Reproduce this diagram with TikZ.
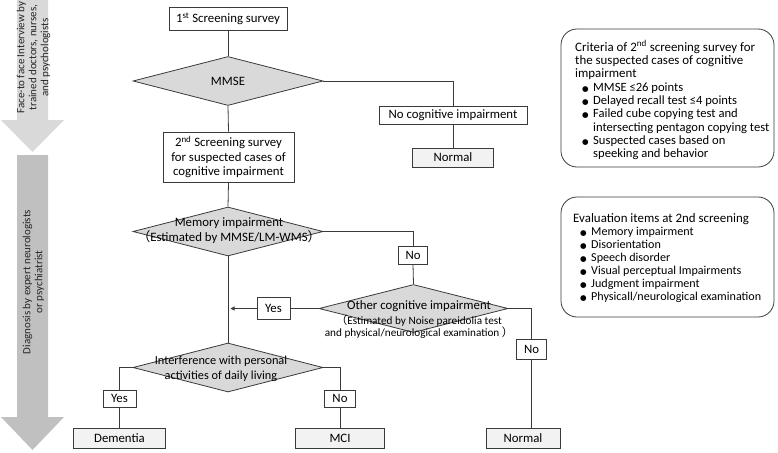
\documentclass[tikz,border=0pt]{standalone}
\usepackage{fontspec}
\setmainfont{Carlito}
\newfontfamily\cjkf{Noto Sans CJK JP}
\newfontfamily\symf{DejaVu Sans}
\usetikzlibrary{shapes.geometric,arrows.meta}
\definecolor{arrowA}{HTML}{D9D9D9}
\definecolor{arrowB}{HTML}{C0C0C0}
\definecolor{diafill}{HTML}{D9D9D9}
\definecolor{outfill}{HTML}{F2F2F2}
\definecolor{ln}{HTML}{3A3A3A}
\newcommand{\fsA}{\fontsize{12.8}{14.5}\selectfont}
\newcommand{\fsB}{\fontsize{11.2}{12}\selectfont}
\newcommand{\fsC}{\fontsize{12.9}{13.3}\selectfont}
\newcommand{\fsD}{\fontsize{11}{12}\selectfont}
\newcommand{\bul}{{\symf\fontsize{7.5}{8}\selectfont ●}}
\newcommand{\itm}{\makebox[18pt][l]{\hspace*{7pt}\bul}}
\newcommand{\itc}{\hspace*{18pt}}
\newcommand{\smi}{\fontsize{12.1}{13}\selectfont}
\newcommand{\smj}{\fontsize{12.6}{13.3}\selectfont}
\begin{document}
\begin{tikzpicture}[x=1pt,y=-1pt,
  conn/.style={draw=ln, line width=0.8pt},
  box/.style={draw=ln, line width=0.8pt, fill=white, inner sep=1pt, align=center, font=\fsA},
  outbox/.style={box, fill=outfill},
  dia/.style={diamond, draw=ln, line width=0.8pt, fill=diafill, inner sep=0pt, minimum width=190pt, minimum height=49pt},
  dtext/.style={align=center, font=\fsA, inner sep=0pt},
  panel/.style={draw=ln, line width=0.8pt, rounded corners=16pt, inner sep=0pt},
  ptext/.style={align=left, font=\fsC, inner sep=0pt, anchor=north west},
  atext/.style={align=center, font=\fsD, rotate=90, inner sep=0pt, text=black!85}
]
\useasboundingbox (0,0) rectangle (778,452);

% side arrows
\fill[arrowA] (17,0) -- (48,0) -- (48,120) -- (64,120) -- (32.5,152) -- (1,120) -- (17,120) -- cycle;
\fill[arrowB] (17,155) -- (48,155) -- (48,417) -- (64,417) -- (32.5,450) -- (1,417) -- (17,417) -- cycle;
\node[atext] (ta) at (33.5,57.5) {Face-to face Interview by\\trained doctors, nurses,\\and psychologists};
\node[atext] (tb) at (33.5,282) {Diagnosis by expert neurologists\\or psychiatrist};

% flowchart nodes
\node[box, minimum width=118pt, minimum height=23pt] (s1) at (228,18.5) {1\textsuperscript{st} Screening survey};
\node[dia] (mmse) at (228,81) {};
\node[dtext] (mmset) at (228,81) {MMSE};
\node[box, minimum width=148pt, minimum height=18pt] (noci) at (453,115.5) {No cognitive impairment};
\node[outbox, minimum width=81pt, minimum height=19pt] (norm1) at (453,157.5) {Normal};
\node[box, minimum width=131pt, minimum height=50pt] (s2) at (228.5,157) {2\textsuperscript{nd} Screening survey\\for suspected cases of\\cognitive impairment};
\node[dia] (mem) at (228,231.5) {};
\node[dtext] (memt) at (229,230.5) {Memory impairment\\{\cjkf （}Estimated by MMSE/LM-WMS{\cjkf ）}};
\node[box, minimum width=29pt, minimum height=18pt] (no1) at (413,255) {No};
\node[dia, minimum width=189pt, minimum height=48pt] (oth) at (413.5,308.5) {};
\node[dtext] (otht) at (419,306) {Other cognitive impairment};
\node[dtext, font=\fsB] (othsub) at (419,327) {{\cjkf （}Estimated by Noise pareidolia test\\and physical/neurological examination {\cjkf ）}};
\node[box, minimum width=33pt, minimum height=22pt] (yes1) at (273.5,308.5) {Yes};
\coordinate (tip) at (230.5,308.5);
\node[box, minimum width=30pt, minimum height=20pt] (no2) at (531.5,349) {No};
\node[outbox, minimum width=74pt, minimum height=20pt] (norm2) at (523,438) {Normal};
\node[dia] (intf) at (228,367.5) {};
\node[dtext, font=\fontsize{12.3}{15}\selectfont] (intft) at (221,369) {Interference with personal\\activities of daily living};
\node[box, minimum width=33pt, minimum height=17pt] (yes2) at (119.5,398.5) {Yes};
\node[box, minimum width=31pt, minimum height=17pt] (no3) at (340,398.5) {No};
\node[outbox, minimum width=92pt, minimum height=20pt] (dem) at (119.5,438) {Dementia};
\node[outbox, minimum width=89pt, minimum height=20pt] (mci) at (340,438) {MCI};

% connectors
\draw[conn] (s1.south) -- (mmse.north);
\draw[conn] (mmse.south) -- (s2.north);
\draw[conn] (mmse.east) -| (noci.north);
\draw[conn] (noci.south) -- (norm1.north);
\draw[conn] (s2.south) -- (mem.north);
\draw[conn] (mem.east) -| (no1.north);
\draw[conn] (no1.south) -- (oth.north);
\draw[conn] (oth.west) -- (yes1.east);
\draw[conn, -{Triangle[length=4pt,width=4pt]}] (yes1.west) -- (tip);
\draw[conn] (oth.east) -| (no2.north);
\draw[conn] (no2.south) -- (no2.south |- norm2.north);
\draw[conn] (mem.south) -- (intf.north);
\draw[conn] (intf.west) -| (yes2.north);
\draw[conn] (yes2.south) -- (dem.north);
\draw[conn] (intf.east) -| (no3.north);
\draw[conn] (no3.south) -- (mci.north);

% right panels
\node[panel, minimum width=213pt, minimum height=138pt] (p1) at (667.5,98) {};
\node[ptext] (p1t) at (575,40.5) {Criteria of 2\textsuperscript{nd} screening survey for\\
the suspected cases of cognitive\\
impairment\\
{\smj\itm MMSE ≤26 points}\\
{\smj\itm Delayed recall test ≤4 points}\\
{\smj\itm Failed cube copying test and}\\
{\smj\itc intersecting pentagon copying test}\\
{\smj\itm Suspected cases based on}\\
{\smj\itc speeking and behavior}};
\node[panel, minimum width=213pt, minimum height=120pt] (p2) at (667.5,257) {};
\node[ptext, font=\fontsize{12.9}{13}\selectfont] (p2t) at (573,213.5) {Evaluation items at 2nd screening\\
{\smi\itm Memory impairment}\\
{\smi\itm Disorientation}\\
{\smi\itm Speech disorder}\\
{\smi\itm Visual perceptual Impairments}\\
{\smi\itm Judgment impairment}\\
{\smi\itm Physicall/neurological examination}};
\end{tikzpicture}
\end{document}
